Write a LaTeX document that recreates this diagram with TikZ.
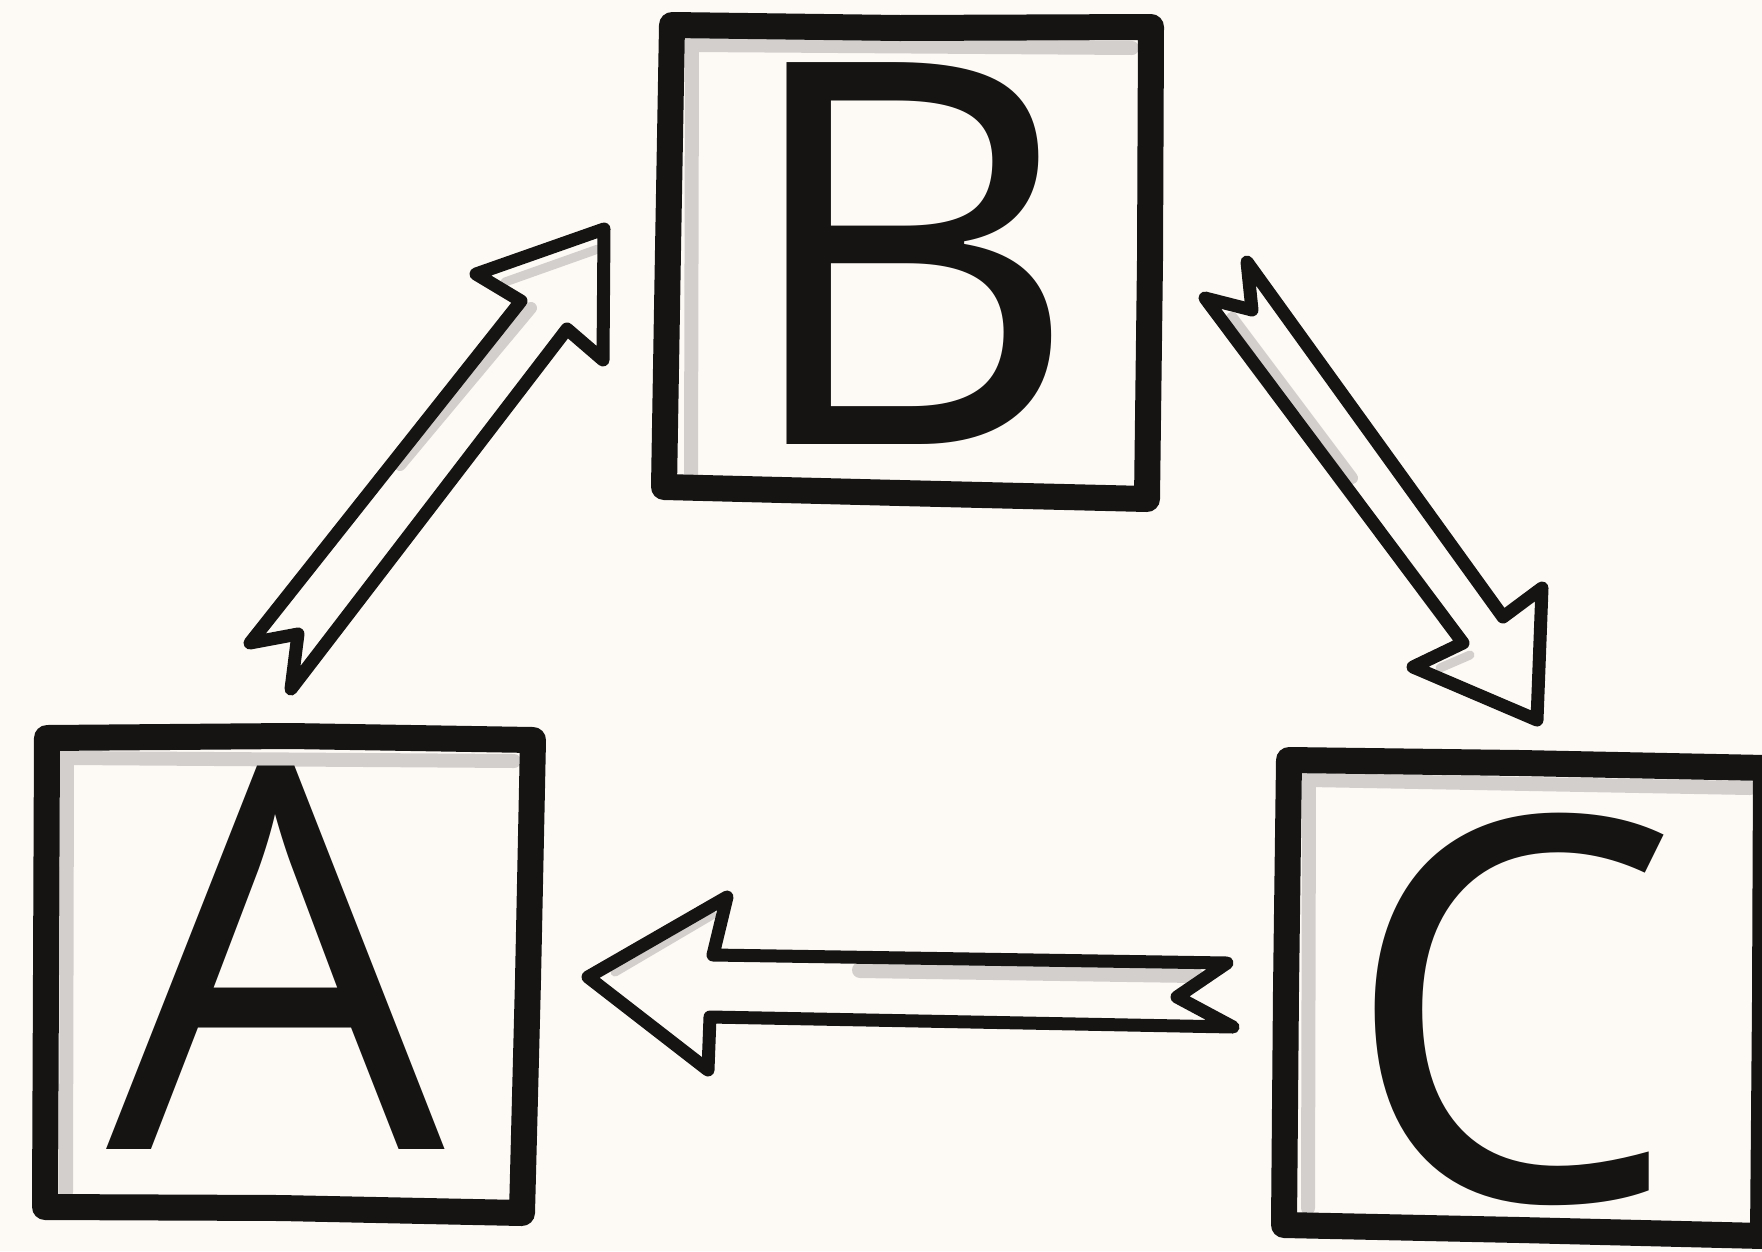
\documentclass[tikz,border=0pt]{standalone}
\usepackage{fontspec}
\setmainfont{Open Sans}
\definecolor{paper}{RGB}{253,250,246}
\definecolor{ink}{RGB}{22,20,19}
\definecolor{shade}{RGB}{210,207,205}
\begin{document}
\begin{tikzpicture}[x=1pt,y=-1pt,
  frame/.style={draw=ink,line width=26pt,line join=round,line cap=round},
  frameshade/.style={draw=shade,line width=14pt,line cap=round},
  blockarrow/.style={draw=ink,line width=13pt,line join=round},
  arrowshade/.style={draw=shade,line width=12pt,line cap=round},
  letter/.style={inner sep=0pt,anchor=base,text=ink,font=\fontsize{535}{535}\selectfont}]
% paper
\fill[paper] (0,0) rectangle (1762,1251);
\useasboundingbox (0,0) rectangle (1762,1251);

% ---------- box B ----------
\draw[frameshade] (691,476) -- (692,45) -- (1132,48);
\draw[frame] (672,25) -- (900,28) -- (1151,27) -- (1150,260) -- (1147,499)
  -- (900,493) -- (664,487) -- (668,250) -- cycle;
\node[letter] (B) at (908,444) {B};

% ---------- box A ----------
\draw[frameshade] (66,1192) -- (67,758) -- (514,761);
\draw[frame] (47,738) -- (290,736) -- (533,740) -- (528,980) -- (522,1213)
  -- (280,1208) -- (45,1207) -- (46,975) -- cycle;
\node[letter] (A) at (276,1149) {A};

% ---------- box C ----------
\draw[frameshade] (1308,1208) -- (1309,780) -- (1750,788);
\draw[frame] (1289,760) -- (1520,763) -- (1766,768) -- (1765,1000) -- (1763,1236)
  -- (1520,1230) -- (1284,1225) -- (1286,990) -- cycle;
\node[letter] (C) at (1511,1200) {C};

% ---------- arrow A -> B ----------
\coordinate (ab1) at (250,643);
\coordinate (ab2) at (521,301);
\coordinate (ab3) at (476,274);
\coordinate (ab4) at (604,229);
\coordinate (ab5) at (603,360);
\coordinate (ab6) at (567,329);
\coordinate (ab7) at (291,689);
\coordinate (ab8) at (298,634);
\fill[paper] (ab1) -- (ab2) -- (ab3) -- (ab4) -- (ab5) -- (ab6) -- (ab7) -- (ab8) -- cycle;
\begin{scope}
  \clip (ab1) -- (ab2) -- (ab3) -- (ab4) -- (ab5) -- (ab6) -- (ab7) -- (ab8) -- cycle;
  \draw[arrowshade] (400,465) -- (531,308);
  \draw[arrowshade,line width=9pt] (505,282) -- (598,249);
\end{scope}
\draw[blockarrow] (ab1) -- (ab2) -- (ab3) -- (ab4) -- (ab5) -- (ab6) -- (ab7) -- (ab8) -- cycle;

% ---------- arrow B -> C ----------
\coordinate (bc1) at (1205,298);
\coordinate (bc2) at (1252,310);
\coordinate (bc3) at (1247,262);
\coordinate (bc4) at (1503,617);
\coordinate (bc5) at (1542,588);
\coordinate (bc6) at (1537,720);
\coordinate (bc7) at (1413,667);
\coordinate (bc8) at (1463,643);
\fill[paper] (bc1) -- (bc2) -- (bc3) -- (bc4) -- (bc5) -- (bc6) -- (bc7) -- (bc8) -- cycle;
\begin{scope}
  \clip (bc1) -- (bc2) -- (bc3) -- (bc4) -- (bc5) -- (bc6) -- (bc7) -- (bc8) -- cycle;
  \draw[arrowshade] (1232,318) -- (1352,478);
  \draw[arrowshade,line width=9pt] (1440,668) -- (1470,655);
\end{scope}
\draw[blockarrow] (bc1) -- (bc2) -- (bc3) -- (bc4) -- (bc5) -- (bc6) -- (bc7) -- (bc8) -- cycle;

% ---------- arrow C -> A ----------
\coordinate (ca1) at (588,977);
\coordinate (ca2) at (727,897);
\coordinate (ca3) at (713,955);
\coordinate (ca4) at (1227,963);
\coordinate (ca5) at (1177,997);
\coordinate (ca6) at (1233,1027);
\coordinate (ca7) at (710,1017);
\coordinate (ca8) at (708,1070);
\fill[paper] (ca1) -- (ca2) -- (ca3) -- (ca4) -- (ca5) -- (ca6) -- (ca7) -- (ca8) -- cycle;
\begin{scope}
  \clip (ca1) -- (ca2) -- (ca3) -- (ca4) -- (ca5) -- (ca6) -- (ca7) -- (ca8) -- cycle;
  \draw[arrowshade,line width=16pt] (860,970) -- (1195,975);
  \draw[arrowshade,line width=9pt] (615,972) -- (712,915);
\end{scope}
\draw[blockarrow] (ca1) -- (ca2) -- (ca3) -- (ca4) -- (ca5) -- (ca6) -- (ca7) -- (ca8) -- cycle;
\end{tikzpicture}
\end{document}
